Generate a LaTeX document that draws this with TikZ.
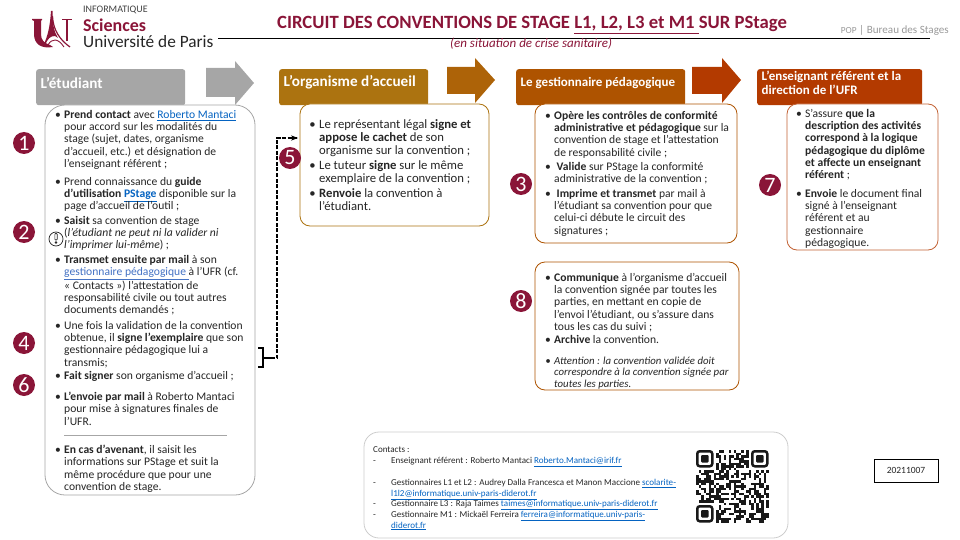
\documentclass[tikz,border=0pt]{standalone}
\usepackage{fontspec}
\setmainfont{Carlito}
\usepackage{tikz}
\usetikzlibrary{positioning,arrows.meta}
\definecolor{wine}{HTML}{8A1538}
\definecolor{headgray}{HTML}{A6A6A6}
\definecolor{headochre}{HTML}{AC7310}
\definecolor{headbrown}{HTML}{AE5300}
\definecolor{headrust}{HTML}{B33A00}
\definecolor{linkblue}{HTML}{0563C1}
\definecolor{linkpale}{HTML}{4472C4}
\definecolor{bodytext}{HTML}{262626}
\newcommand{\itm}{\leavevmode\llap{\textbullet\hspace{3.4pt}}}
\newcommand{\lnk}[1]{\textcolor{linkblue}{\underline{#1}}}
\begin{document}
\begin{tikzpicture}[x=1pt,y=-1pt,
  head/.style={anchor=north west, rounded corners=2.5pt, minimum height=36pt, inner sep=0pt},
  headtxt/.style={anchor=west, inner sep=0pt, text=white, align=left, font=\fontsize{15.2}{15}\selectfont\bfseries},
  panel/.style={line width=0.8pt, fill=white},
  txt/.style={anchor=north west, yshift=-2.5pt, inner sep=0pt, align=left, text=bodytext, font=\fontsize{11.6}{12.3}\selectfont},
  txtbig/.style={txt, font=\fontsize{12.7}{13.2}\selectfont},
  num/.style={circle, fill=wine, text=white, minimum size=22pt, inner sep=0pt, font=\fontsize{22}{22}\selectfont},
  contact/.style={anchor=north west, yshift=-2pt, inner sep=0pt, align=left, text=bodytext, font=\fontsize{9.05}{10.6}\selectfont}]
\useasboundingbox (0,0) rectangle (960,540);
% logo
\fill[wine] (32,19) -- (42,19) -- (42,20) -- (41,21) -- (41,34) .. controls (41,40) and (44,43) .. (50,45) -- (53,47) .. controls (41,49) and (34,44) .. (34,34) -- (34,21) -- (32,20) -- cycle;
\fill[wine] (51,11) -- (52.5,11) .. controls (52.5,24) and (54,32) .. (58,38) -- (55,36) .. controls (50,36) and (48,39) .. (46,43) -- (43,46) .. controls (48,36) and (50,26) .. (51,11) -- cycle;
\draw[wine, line width=1.2pt] (52.5,16) .. controls (53,30) and (60,40) .. (70,47);
\draw[wine, line width=0.9pt] (48,45) .. controls (52,38) and (58,38) .. (64,47);
\draw[wine, line width=1.3pt] (67,19.5) -- (67,41);
\draw[wine, line width=1pt] (62,19.5) -- (72,19.5);
\node[anchor=west, inner sep=0pt, text=black!75, font=\fontsize{10}{10}\selectfont] (infotxt) at (83,9.5) {INFORMATIQUE};
\node[anchor=west, inner sep=0pt, text=wine, font=\fontsize{18}{18}\selectfont\bfseries] (scitxt) at (83,25.5) {Sciences};
\node[anchor=west, inner sep=0pt, text=black!85, font=\fontsize{17.3}{17.5}\selectfont] (uparis) at (83,42) {Université de Paris};
% title
\node[anchor=west, inner sep=0pt, text=wine, font=\fontsize{18.7}{19}\selectfont\bfseries] (title) at (277,25) {CIRCUIT DES CONVENTIONS DE STAGE \underline{L1, L2, L3 et M1 }SUR PStage};
\coordinate (rulea) at (218,38);
\coordinate (ruleb) at (930,38);
\draw[line width=0.8pt] (rulea) -- (ruleb);
\node[anchor=west, inner sep=0pt, text=wine, font=\fontsize{13}{13}\selectfont\itshape] (subtitle) at (450,44) {(en situation de crise sanitaire)};
\node[anchor=east, inner sep=0pt, text=black!40, font=\fontsize{11.1}{11}\selectfont] (pop) at (949,30) {{\fontsize{9.3}{11}\selectfont POP} | Bureau des Stages};
% arrows between headers
\fill[headgray] (206,68) -- (235,68) -- (235,61) -- (254,83) -- (235,105) -- (235,97) -- (206,97) -- cycle;
\fill[headbrown!50!headochre] (447,67) -- (475,67) -- (475,58) -- (495,80) -- (475,103) -- (475,94) -- (447,94) -- cycle;
\fill[headrust] (692,67) -- (722,67) -- (722,58) -- (741,80) -- (722,103) -- (722,94) -- (692,94) -- cycle;
% headers
\node[head, fill=headgray, minimum width=149pt] (hstud) at (36,69) {};
\node[head, fill=headochre, minimum width=149pt] (horg) at (279,69) {};
\node[head, fill=headbrown, minimum width=169pt] (hgest) at (516,69) {};
\node[head, fill=headrust, minimum width=165pt] (hens) at (757,69) {};
\node[headtxt] (tstud) at ([xshift=4.5pt,yshift=4.5pt]hstud.west) {L’étudiant};
\node[headtxt] (torg) at ([xshift=4.5pt,yshift=4.5pt]horg.west) {L’organisme d’accueil};
\node[headtxt, font=\fontsize{13}{15}\selectfont\bfseries] (tgest) at ([xshift=4.5pt,yshift=4.5pt]hgest.west) {Le gestionnaire pédagogique};
\node[headtxt, font=\fontsize{13}{14}\selectfont\bfseries] (tens) at ([xshift=4.5pt,yshift=4.5pt]hens.west) {L’enseignant référent et la\\direction de l’UFR};
% panels
\draw[panel, draw=black!35, rounded corners=20pt] (45,105) rectangle (255,495);
\draw[panel, draw=headochre, rounded corners=10pt] (300,104) rectangle (489,226);
\draw[panel, draw=headbrown, rounded corners=10pt] (535,104) rectangle (737,243);
\draw[panel, draw=headbrown, rounded corners=10pt] (535,262) rectangle (739,390);
\draw[panel, draw=headrust!80, rounded corners=10pt] (787,104) rectangle (938,250);
% student text
\node[txt] (s1) at (64,107.5) {\itm\textbf{Prend contact} avec \lnk{Roberto Mantaci}\\pour accord  sur les modalités du\\stage (sujet, dates, organisme\\d’accueil, etc.) et désignation de\\l’enseignant référent ;};
\node[txt] (s2) at (64,174.5) {\itm Prend connaissance du \textbf{guide}\\\textbf{d’utilisation \lnk{PStage}}  disponible sur la\\page d’accueil de l’outil ;};
\node[txt] (s3) at (64,213.5) {\itm\textbf{Saisit}  sa convention de stage\\(\textit{l’étudiant ne peut ni la valider ni}\\\textit{l’imprimer lui-même}) ;};
\node[txt] (s4) at (64,252.5) {\itm\textbf{Transmet  ensuite par mail} à son\\\textcolor{linkpale}{\underline{gestionnaire pédagogique }}à l’UFR (cf.\\« Contacts ») l’attestation de\\responsabilité civile ou tout autres\\documents demandés ;};
\node[txt] (s5) at (64,318.5) {\itm Une fois la validation de la convention\\obtenue, il \textbf{signe l’exemplaire} que son\\gestionnaire pédagogique lui a\\transmis;};
\node[txt] (s6) at (64,368.5) {\itm\textbf{Fait signer} son organisme d’accueil ;};
\node[txt] (s7) at (64,389.5) {\itm\textbf{L’envoie par mail} à Roberto Mantaci\\pour mise à signatures finales de\\l’UFR.};
\coordinate (sepa) at (64,435);
\coordinate (sepb) at (227,435);
\draw[black!35, line width=0.7pt] (sepa) -- (sepb);
\node[txt] (s8) at (64,442.5) {\itm\textbf{En cas d’avenant},  il saisit les\\informations sur PStage et suit la\\même procédure que pour une\\convention de stage.};
% warning sign
\node[circle, draw=black!85, line width=0.7pt, minimum size=14pt, inner sep=0pt] (warn) at (56,239) {};
\draw[black!85, line width=0.6pt, rounded corners=0.8pt] (54.8,233.5) rectangle (57.2,240);
\fill[black!85] (56,242.5) circle (1.3pt);
% organisme text
\node[txtbig] (o1) at (319,116.5) {\itm Le représentant légal \textbf{signe et}\\\textbf{appose  le cachet} de son\\organisme sur la convention ;};
\node[txtbig] (o2) at (319,157.5) {\itm Le tuteur \textbf{signe} sur le même\\exemplaire de la convention ;};
\node[txtbig] (o3) at (319,185.5) {\itm\textbf{Renvoie}  la convention à\\l’étudiant.};
% gestionnaire text
\node[txt] (g1) at (554,108.5) {\itm\textbf{Opère les contrôles de conformité}\\\textbf{administrative  et pédagogique} sur la\\convention de stage et l’attestation\\de responsabilité civile ;};
\node[txt] (g2) at (554,159.5) {\itm\hspace{2.5pt}\textbf{Valide} sur PStage la conformité\\administrative de la convention ;};
\node[txt] (g3) at (554,186.5) {\itm\hspace{2.5pt}\textbf{Imprime et transmet} par mail à\\l’étudiant sa convention pour que\\celui-ci débute le circuit des\\signatures ;};
\node[txt] (g4) at (554,270.5) {\itm\textbf{Communique} à l’organisme d’accueil\\la convention signée par toutes les\\parties, en mettant en copie de\\l’envoi l’étudiant, ou s’assure dans\\tous les cas du suivi ;};
\node[txt] (g5) at (554,332.5) {\itm\textbf{Archive} la convention.};
\node[txt, font=\fontsize{10.8}{11.6}\selectfont\itshape] (g6) at (554,354) {\itm Attention : la convention validée doit\\correspondre à la convention signée par\\toutes les parties.};
% enseignant text
\node[txt] (e1) at (805,106.5) {\itm S’assure \textbf{que la}\\\textbf{description des activités}\\\textbf{correspond à la logique}\\\textbf{pédagogique du diplôme}\\\textbf{et affecte un enseignant}\\\textbf{référent} ;};
\node[txt] (e2) at (805,186.5) {\itm\textbf{Envoie} le document final\\signé à l’enseignant\\référent et au\\gestionnaire\\pédagogique.};
% numbers
\node[num] (n1) at (24,143) {1};
\node[num] (n2) at (24,232) {2};
\node[num] (n4) at (24,343) {4};
\node[num] (n6) at (24,385) {6};
\node[num] (n5) at (290,158) {5};
\node[num] (n3) at (521,184) {3};
\node[num] (n8) at (521,301) {8};
\node[num] (n7) at (770,185) {7};
% brace and return path
\coordinate (brtop) at (258,348);
\coordinate (brbot) at (258,367);
\coordinate (brmid) at (263,358);
\coordinate (retstart) at (271,358);
\coordinate (retcorner) at (277,358);
\coordinate (retup) at (277,138);
\coordinate (retend) at (298,138);
\draw[line width=1.3pt] (brtop) -| (brmid) |- (brbot);
\draw[line width=1.3pt] (brmid) -- (retstart);
\draw[line width=1.3pt, dash pattern=on 4pt off 1.5pt] (retstart) -- (retcorner) -- (retup) -- (retend);
\draw[line width=1.3pt, -{Stealth[length=7pt]}] (288,138) -- (retend);
% contacts
\draw[black!20, line width=0.8pt, rounded corners=15pt] (364,432) rectangle (788,538);
\node[contact] (c0) at (373,444) {Contacts :};
\foreach \dy/\nm in {455/d1,477/d2,498/d3,509/d4} \node[contact] (\nm) at (373,\dy) {\vphantom{Ag}-};
\node[contact] (c1) at (391,455) {Enseignant référent  : Roberto Mantaci \lnk{Roberto.Mantaci@irif.fr}};
\node[contact] (c2) at (391,477) {Gestionnaires L1 et L2 : Audrey Dalla Francesca et Manon Maccione \lnk{scolarite-}\\\lnk{l1l2@informatique.univ-paris-diderot.fr}};
\node[contact] (c3) at (391,498) {Gestionnaire L3 : Raja Taimes  \lnk{taimes@informatique.univ-paris-diderot.fr}};
\node[contact] (c4) at (391,509) {Gestionnaire M1 :  Mickaël Ferreira  \lnk{ferreira@informatique.univ-paris-}\\\lnk{diderot.fr}};
% qr code
\pgfmathsetseed{20211007}
\foreach \i in {0,...,28} \foreach \j in {0,...,28} {
  \pgfmathrandominteger{\bit}{0}{9}
  \pgfmathtruncatemacro{\skip}{(\i<8 && \j<8) || (\i>20 && \j<8) || (\i<8 && \j>20)}
  \ifnum\skip=0 \ifnum\bit<5 \fill[black!90] (696+2.5*\i,450+2.5*\j) rectangle +(2.5,2.5); \fi\fi
}
\foreach \qx/\qy in {696/450,751/450,696/505} {
  \draw[black!90, line width=2.5pt, rounded corners=2.5pt] (\qx+1.25,\qy+1.25) rectangle +(15,15);
  \fill[black!90, rounded corners=1pt] (\qx+5,\qy+5) rectangle +(7.5,7.5);
}
% version box
\node[draw, line width=0.7pt, minimum width=64pt, minimum height=23pt, inner sep=0pt, text=bodytext, font=\fontsize{9.5}{10}\selectfont] (version) at (906,470.5) {20211007};
\end{tikzpicture}
\end{document}
